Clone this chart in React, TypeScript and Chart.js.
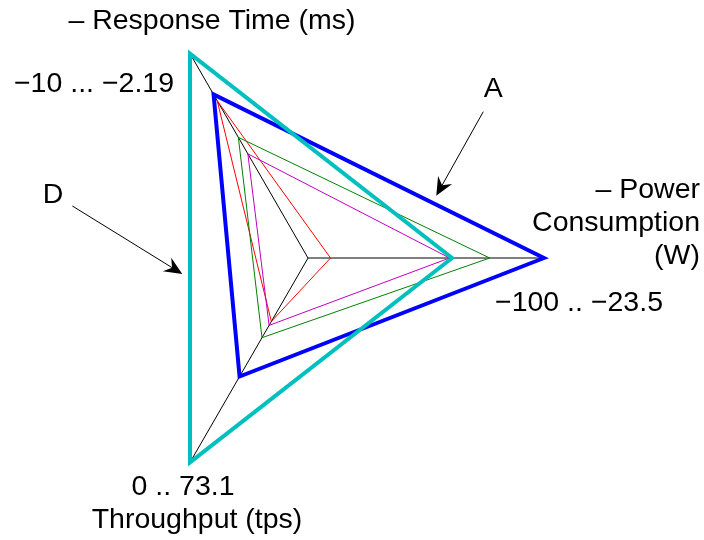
import React, { useEffect, useRef } from "react";
import { Chart, registerables } from "chart.js";

Chart.register(...registerables);

// Axes in drawing order (Chart.js radar, startAngle 90 => first axis points right)
const axisKeys = ["power", "throughput", "response"];
const axisMin = [-100, 0, -10];
const axisMax = [-23.5, 73.1, -2.19];
const axisRangeLabels = ["\u2212100 .. \u221223.5", "0 .. 73.1", "\u221210 ... \u22122.19"];

// Series values (negated for "lower is better" axes)
const seriesNames = ["D", "A", "B", "C", "E"];
const seriesColors = ["#00BFBF", "#0000FF", "#008000", "#BF00BF", "#FF0000"];
const seriesWidths = [4, 4, 1, 1, 1];
const powerValues = [-53.3, -23.5, -41.1, -54.1, -92.7];
const throughputValues = [73.1, 42.4, 28.5, 24.1, 22.7];
const responseValues = [-2.19, -3.75, -5.39, -6.02, -3.99];

const FONT = "28.5px 'Liberation Sans', Arial, sans-serif";

function norm(v: number, i: number) {
  return (v - axisMin[i]) / (axisMax[i] - axisMin[i]);
}

const labelPlugin = {
  id: "radarLabels",
  afterDraw(chart: any) {
    const ctx = chart.ctx;
    const scale = chart.scales.r;
    const R = scale.drawingArea;
    const pPow = scale.getPointPosition(0, R);
    const pThr = scale.getPointPosition(1, R);
    const pRes = scale.getPointPosition(2, R);
    ctx.save();
    ctx.fillStyle = "#000";
    ctx.font = FONT;
    ctx.textBaseline = "alphabetic";

    // Response Time
    ctx.textAlign = "center";
    ctx.fillText("\u2013 Response Time (ms)", pRes.x + 22, pRes.y - 25);
    ctx.textAlign = "right";
    ctx.fillText(axisRangeLabels[2], pRes.x - 16, pRes.y + 38);

    // Power
    ctx.textAlign = "right";
    ctx.fillText("\u2013 Power", pPow.x + 156, pPow.y - 60);
    ctx.fillText("Consumption", pPow.x + 156, pPow.y - 27);
    ctx.fillText("(W)", pPow.x + 156, pPow.y + 6);
    ctx.textAlign = "center";
    ctx.fillText(axisRangeLabels[0], pPow.x + 35, pPow.y + 53);

    // Throughput
    ctx.textAlign = "center";
    ctx.fillText(axisRangeLabels[1], pThr.x - 7, pThr.y + 33);
    ctx.fillText("Throughput (tps)", pThr.x + 7, pThr.y + 66);

    // Annotations with arrows
    const annotate = (dsIndex: number, from: number, to: number, t: number, off: number[], tail: number[], text: number[], label: string) => {
      const meta = chart.getDatasetMeta(dsIndex);
      const a = meta.data[from];
      const b = meta.data[to];
      const tx = a.x + (b.x - a.x) * t + off[0];
      const ty = a.y + (b.y - a.y) * t + off[1];
      const sx = tx + tail[0];
      const sy = ty + tail[1];
      const dx = tx - sx;
      const dy = ty - sy;
      const len = Math.hypot(dx, dy);
      const ux = dx / len;
      const uy = dy / len;
      const nx = -uy;
      const ny = ux;
      const L = 18;
      const W = 8;
      ctx.strokeStyle = "#000";
      ctx.lineWidth = 1;
      ctx.beginPath();
      ctx.moveTo(sx, sy);
      ctx.lineTo(tx - ux * 8, ty - uy * 8);
      ctx.stroke();
      ctx.beginPath();
      ctx.moveTo(tx, ty);
      ctx.lineTo(tx - ux * L + nx * W, ty - uy * L + ny * W);
      ctx.lineTo(tx - ux * (L - 6), ty - uy * (L - 6));
      ctx.lineTo(tx - ux * L - nx * W, ty - uy * L - ny * W);
      ctx.closePath();
      ctx.fill();
      ctx.textAlign = "center";
      ctx.fillText(label, tx + text[0], ty + text[1]);
    };
    annotate(1, 2, 0, 0.674, [0, -9], [47, -84], [57, -98.7], "A");
    annotate(0, 2, 1, 0.539, [-7.7, 0], [-110, -68], [-129.3, -71], "D");
    ctx.restore();
  },
};

export default function App() {
  const ref = useRef<HTMLCanvasElement>(null);
  useEffect(() => {
    if (!ref.current) return;
    const datasets = seriesNames.map((name, s) => ({
      label: name,
      data: [norm(powerValues[s], 0), norm(throughputValues[s], 1), norm(responseValues[s], 2)],
      borderColor: seriesColors[s],
      backgroundColor: "transparent",
      borderWidth: seriesWidths[s],
      borderJoinStyle: "miter" as const,
      fill: false,
      pointRadius: 0,
      pointHoverRadius: 0,
      tension: 0,
      clip: false as any,
    }));
    const chart = new Chart(ref.current, {
      type: "radar",
      data: { labels: axisKeys, datasets },
      options: {
        animation: false,
        responsive: true,
        maintainAspectRatio: false,
        layout: { padding: { left: 72, right: 160, top: 22, bottom: 46 } },
        plugins: { legend: { display: false }, tooltip: { enabled: false } },
        scales: {
          r: {
            min: 0,
            max: 1,
            startAngle: 90,
            ticks: { display: false },
            grid: { display: false },
            angleLines: { display: true, color: "#000", lineWidth: 1 },
            pointLabels: { display: false },
          },
        },
      },
      plugins: [labelPlugin],
    });
    return () => chart.destroy();
  }, []);
  return (
    <div style={{ position: "fixed", left: 0, top: 0, width: 704, height: 540, background: "#fff" }}>
      <canvas ref={ref} />
    </div>
  );
}
